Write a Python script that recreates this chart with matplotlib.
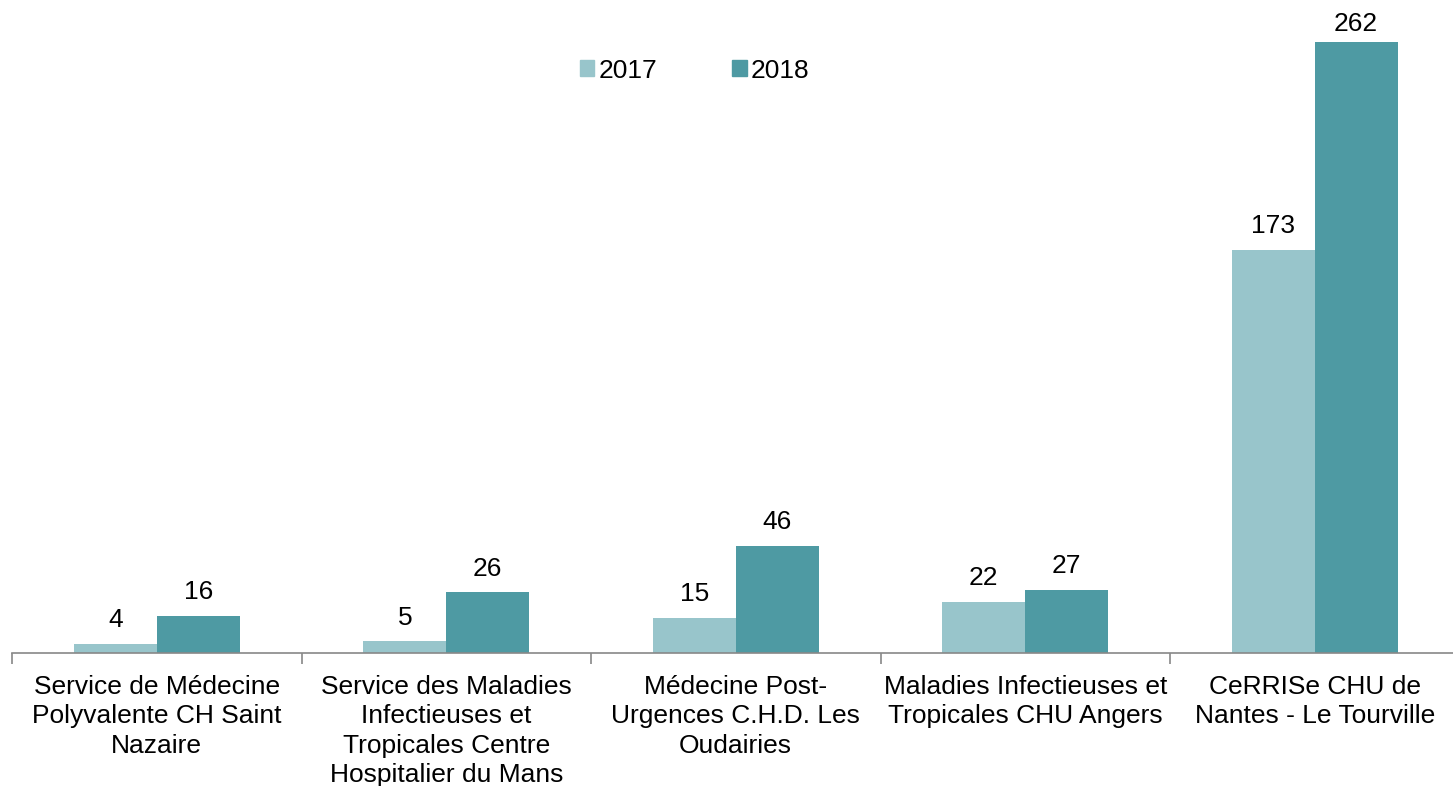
import numpy as np
import matplotlib
matplotlib.use('Agg')
import matplotlib.pyplot as plt
from matplotlib.patches import Patch

categories = ['Service de Médecine\nPolyvalente CH Saint\nNazaire',
              'Service des Maladies\nInfectieuses et\nTropicales Centre\nHospitalier du Mans',
              'Médecine Post-\nUrgences C.H.D. Les\nOudairies',
              'Maladies Infectieuses et\nTropicales CHU Angers',
              'CeRRISe CHU de\nNantes - Le Tourville']
vals_2017 = [4, 5, 15, 22, 173]
vals_2018 = [16, 26, 46, 27, 262]
years = ['2017', '2018']
colors = ['#98c5cb', '#4e9aa3']

plt.rcParams['font.family'] = ['Liberation Sans', 'DejaVu Sans']
fs = 19

fig = plt.figure(figsize=(14.53, 7.86), dpi=100)
ax = fig.add_axes([12 / 1453, 1 - 653 / 786, 1447.5 / 1453, 653 / 786])

x = np.arange(len(categories))
w = 0.286
b1 = ax.bar(x - w / 2, vals_2017, w, color=colors[0])
b2 = ax.bar(x + w / 2, vals_2018, w, color=colors[1])

top = max(vals_2017 + vals_2018)
for bars, vals in [(b1, vals_2017), (b2, vals_2018)]:
    for r, v in zip(bars, vals):
        # the tallest label sits closer to its bar so it stays inside the figure
        off = 4.5 if v == top else 8.5
        ax.annotate(str(v), (r.get_x() + r.get_width() / 2, v), xytext=(0, off),
                    textcoords='offset points', ha='center', va='bottom', fontsize=fs)

ax.set_xlim(-0.5, len(categories) - 0.5)
ax.set_ylim(0, 280)
ax.set_yticks([])
for s in ['top', 'right', 'left']:
    ax.spines[s].set_visible(False)
ax.spines['bottom'].set_color('#888888')
ax.spines['bottom'].set_linewidth(1.2)

ax.set_xticks(x)
ax.set_xticklabels(categories, fontsize=fs, linespacing=1.29)
ax.tick_params(axis='x', which='major', length=0, pad=15.5)
ax.set_xticks(np.arange(-0.5, len(categories)), minor=True)
ax.tick_params(axis='x', which='minor', length=8, width=1.2, color='#888888')

handles = [Patch(color=c, label=y) for c, y in zip(colors, years)]
fig.legend(handles=handles, loc='center', bbox_to_anchor=(0.478, 0.91), ncol=2,
           frameon=False, fontsize=fs, handlelength=0.55, handleheight=0.55,
           handletextpad=0.15, columnspacing=2.85)

fig.savefig('out.png', dpi=100)
